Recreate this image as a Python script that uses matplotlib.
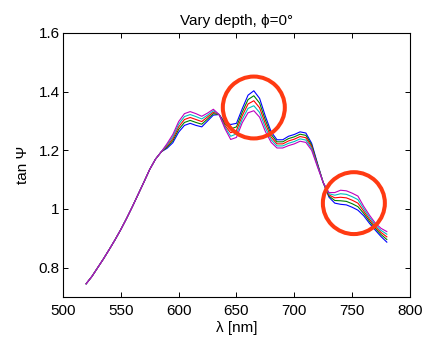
import numpy as np
import matplotlib
matplotlib.use("Agg")
import matplotlib.pyplot as plt
from matplotlib.patches import Ellipse
from matplotlib.ticker import FuncFormatter

plt.rcParams['font.family'] = ['Liberation Sans', 'DejaVu Sans']

# wavelength grid [nm]
wl = np.arange(520, 781, 5)

# common rising part 520..585 nm
rise = [0.745, 0.770, 0.800, 0.830, 0.862, 0.895, 0.930, 0.968,
        1.008, 1.050, 1.092, 1.135, 1.170, 1.195]

# 590..780 nm, one list per depth
blue_tail = [1.207, 1.226, 1.262, 1.285, 1.292, 1.285, 1.280, 1.300, 1.320, 1.322,
             1.295, 1.288, 1.292, 1.342, 1.388, 1.403, 1.377, 1.316, 1.263, 1.236,
             1.236, 1.248, 1.254, 1.263, 1.259, 1.224, 1.156, 1.090, 1.040, 1.020,
             1.016, 1.014, 1.006, 0.996, 0.977, 0.951, 0.928, 0.906, 0.887]
green_tail = [1.211, 1.233, 1.271, 1.295, 1.302, 1.295, 1.289, 1.307, 1.325, 1.322,
              1.289, 1.273, 1.280, 1.330, 1.373, 1.386, 1.361, 1.303, 1.254, 1.229,
              1.229, 1.240, 1.246, 1.255, 1.251, 1.218, 1.153, 1.090, 1.044, 1.029,
              1.028, 1.026, 1.018, 1.008, 0.985, 0.958, 0.934, 0.913, 0.896]
red_tail = [1.215, 1.240, 1.280, 1.305, 1.312, 1.305, 1.298, 1.314, 1.330, 1.322,
            1.284, 1.260, 1.268, 1.318, 1.358, 1.369, 1.345, 1.290, 1.245, 1.222,
            1.222, 1.232, 1.238, 1.247, 1.243, 1.212, 1.150, 1.090, 1.048, 1.038,
            1.040, 1.038, 1.030, 1.020, 0.993, 0.965, 0.940, 0.920, 0.905]
cyan_tail = [1.219, 1.247, 1.289, 1.315, 1.322, 1.315, 1.307, 1.320, 1.335, 1.322,
             1.279, 1.248, 1.256, 1.306, 1.343, 1.352, 1.329, 1.277, 1.236, 1.215,
             1.215, 1.224, 1.230, 1.239, 1.235, 1.206, 1.147, 1.090, 1.052, 1.047,
             1.052, 1.050, 1.042, 1.032, 1.001, 0.972, 0.946, 0.927, 0.914]
magenta_tail = [1.223, 1.254, 1.298, 1.325, 1.332, 1.325, 1.316, 1.327, 1.340, 1.322,
                1.274, 1.237, 1.244, 1.294, 1.328, 1.335, 1.313, 1.264, 1.227, 1.208,
                1.208, 1.216, 1.222, 1.231, 1.227, 1.200, 1.144, 1.090, 1.056, 1.056,
                1.064, 1.062, 1.054, 1.044, 1.009, 0.979, 0.952, 0.934, 0.923]

curves = [rise + blue_tail, rise + green_tail, rise + red_tail,
          rise + cyan_tail, rise + magenta_tail]
colors = ['#0000ff', '#008000', '#ff0000', '#00bfbf', '#bf00bf']

# highlighted regions (centre wavelength, centre tanPsi)
circles = [(665, 1.346), (751.5, 1.020)]

fig = plt.figure(figsize=(4.27, 3.38), dpi=100)
ax = fig.add_axes([0.1475, 0.1213, 0.8126, 0.7811])

for y, c in zip(curves, colors):
    ax.plot(wl, y, color=c, lw=0.8)

for cx, cy in circles:
    ax.add_patch(Ellipse((cx, cy), 53.6, 0.211, fill=False,
                         edgecolor='#ff3a12', lw=2.9, zorder=5))

ax.set_xlim(500, 800)
ax.set_ylim(0.7, 1.6)
ax.set_xticks([500, 550, 600, 650, 700, 750, 800])
ax.set_yticks([0.8, 1.0, 1.2, 1.4, 1.6])
ax.yaxis.set_major_formatter(FuncFormatter(lambda v, p: '%g' % v))
ax.tick_params(direction='in', top=True, right=True, labelsize=11,
               length=3.5, width=0.7)
ax.tick_params(axis='x', pad=5)
ax.tick_params(axis='y', pad=2.5)
for s in ax.spines.values():
    s.set_linewidth(0.8)

ax.set_xlabel('λ [nm]', fontsize=11, labelpad=2)
ax.set_ylabel('tan Ψ', fontsize=11, labelpad=6)
ax.set_title('Vary depth, ϕ=0°', fontsize=11, pad=6)

fig.savefig('out.png', dpi=100)
